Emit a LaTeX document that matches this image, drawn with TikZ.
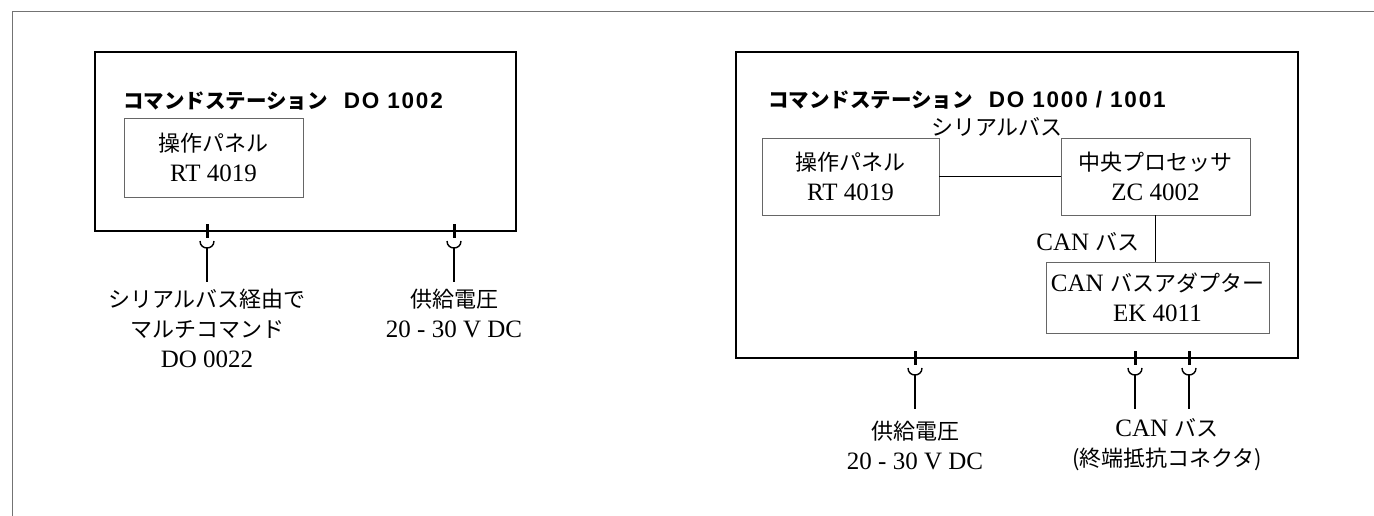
\documentclass[tikz,border=0pt]{standalone}
\usepackage{fontspec}
\setmainfont{Liberation Serif}
\newfontfamily\jp{Noto Sans CJK JP}
\newfontfamily\hd{Liberation Sans}[LetterSpace=8]
\usetikzlibrary{fit}
\newcommand{\J}[1]{{\jp\fontsize{22}{30}\selectfont #1}}
\newcommand{\TJ}[1]{{\jp\bfseries\fontsize{20.5}{24}\selectfont #1}}
\newcommand{\TL}[1]{{\hd\bfseries\fontsize{22.5}{24}\selectfont #1}}
\newcommand{\mkplug}[2]{%
  \draw[tick] (#1,#2-7) -- (#1,#2+7);
  \draw[cup] (#1-7,#2+10) .. controls (#1-7,#2+19.3) and (#1+7,#2+19.3) .. (#1+7,#2+10);
  \draw[lead] (#1,#2+17) -- (#1,#2+51);
}
\tikzset{
  frameline/.style={draw=black!55, line width=0.9pt},
  outer/.style={draw=black, line width=2pt, inner sep=0pt},
  inbox/.style={draw=black!60, line width=0.8pt, inner sep=0pt, align=center,
    font=\rmfamily\fontsize{25}{30}\selectfont},
  bus/.style={draw=black, line width=1.4pt},
  lead/.style={draw=black, line width=1.8pt},
  tick/.style={draw=black, line width=3pt},
  cup/.style={draw=black, line width=1.4pt},
  txt/.style={font=\rmfamily\fontsize{25}{30}\selectfont, align=center, inner sep=0pt},
  ttl/.style={anchor=west, inner sep=0pt}
}
\begin{document}
\begin{tikzpicture}[x=1pt,y=-1pt]
\useasboundingbox (0,0) rectangle (1374,516);
\draw[frameline] (12,516) -- (12,11) -- (1374,11);

% ---------- left station ----------
\node[outer, fit={(95,52) (516,231)}] (L) {};
\node[ttl] (Lt) at (123,101) {\TJ{コマンドステーション}\hspace{16pt}\TL{DO 1002}};
\node[inbox, minimum width=179pt, minimum height=79pt] (Lp) at (213.5,157.5) {\J{操作パネル}\\RT 4019};
\mkplug{207}{231}
\mkplug{454}{231}
\node[txt] (Ll1) at (207,328) {\J{シリアルバス経由で}\\\J{マルチコマンド}\\DO 0022};
\node[txt] (Ll2) at (454,313) {\J{供給電圧}\\20 - 30 V DC};

% ---------- right station ----------
\node[outer, fit={(736,52) (1298,358)}] (R) {};
\node[ttl] (Rt) at (768,100) {\TJ{コマンドステーション}\hspace{16pt}\TL{DO 1000 / 1001}};
\node[txt] (Rsb) at (997,127) {\J{シリアルバス}};
\node[inbox, minimum width=177pt, minimum height=77pt] (Rp) at (850.5,176.5) {\J{操作パネル}\\RT 4019};
\node[inbox, minimum width=189pt, minimum height=77pt] (Rz) at (1155.5,176.5) {\J{中央プロセッサ}\\ZC 4002};
\node[inbox, minimum width=223pt, minimum height=71pt] (Re) at (1157.5,297.5) {CAN \J{バスアダプター}\\EK 4011};
\node[txt] (Rcb) at (1088,242) {CAN \J{バス}};
\draw[bus] (Rp.east) -- (Rz.west);
\draw[bus] (Rz.south) -- (Rz.south |- Re.north);
\mkplug{915}{358}
\mkplug{1135}{358}
\mkplug{1189}{358}
\node[txt] (Rl1) at (915,445) {\J{供給電圧}\\20 - 30 V DC};
\node[txt] (Rl2) at (1167,445) {CAN \J{バス}\\\J{(終端抵抗コネクタ)}};
\end{tikzpicture}
\end{document}
